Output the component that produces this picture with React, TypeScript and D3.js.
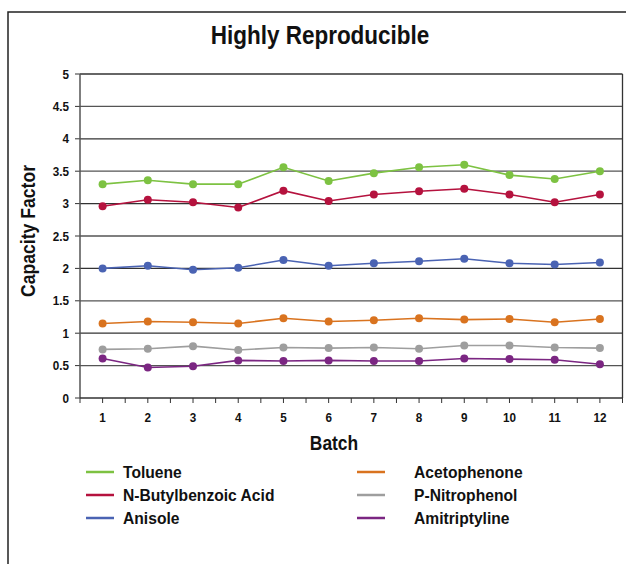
import React from "react";
import * as d3 from "d3";

const batches = [1, 2, 3, 4, 5, 6, 7, 8, 9, 10, 11, 12];
const yTicks = [0, 0.5, 1, 1.5, 2, 2.5, 3, 3.5, 4, 4.5, 5];
const yTickLabels = ["0", "0.5", "1", "1.5", "2", "2.5", "3", "3.5", "4", "4.5", "5"];

const toluene = [3.3, 3.36, 3.3, 3.3, 3.56, 3.35, 3.47, 3.56, 3.6, 3.44, 3.38, 3.5];
const nButylbenzoic = [2.96, 3.06, 3.02, 2.94, 3.2, 3.04, 3.14, 3.19, 3.23, 3.14, 3.02, 3.14];
const anisole = [2.0, 2.04, 1.98, 2.01, 2.13, 2.04, 2.08, 2.11, 2.15, 2.08, 2.06, 2.09];
const acetophenone = [1.15, 1.18, 1.17, 1.15, 1.23, 1.18, 1.2, 1.23, 1.21, 1.22, 1.17, 1.22];
const pNitrophenol = [0.75, 0.76, 0.8, 0.74, 0.78, 0.77, 0.78, 0.76, 0.81, 0.81, 0.78, 0.77];
const amitriptyline = [0.61, 0.47, 0.49, 0.58, 0.57, 0.58, 0.57, 0.57, 0.61, 0.6, 0.59, 0.52];

const seriesNames = ["Toluene", "N-Butylbenzoic Acid", "Anisole", "Acetophenone", "P-Nitrophenol", "Amitriptyline"];
const seriesColors = ["#7DC242", "#B5123E", "#4A63B3", "#D9731F", "#9E9E9E", "#7B2682"];
const seriesValues = [toluene, nButylbenzoic, anisole, acetophenone, pNitrophenol, amitriptyline];

const FONT = "'Liberation Sans', Arial, sans-serif";

export default function App() {
  const W = 626, H = 564;
  const left = 80, right = 622.5, top = 74, bottom = 398;
  const x = d3.scaleBand<number>().domain(batches).range([left, right]).padding(0);
  const y = d3.scaleLinear().domain([0, 5]).range([bottom, top]);
  const cx = (b: number) => (x(b) as number) + x.bandwidth() / 2;
  const line = d3.line<number>().x((_, i) => cx(batches[i])).y((v) => y(v));

  const halfTicks: number[] = [];
  for (let i = 0; i <= batches.length * 2; i++) halfTicks.push(left + (i * x.bandwidth()) / 2);

  const legendRows = [0, 1, 2];
  return (
    <svg width={W} height={H} style={{ position: "absolute", left: 0, top: 0 }}>
      <rect x={0} y={0} width={W} height={H} fill="#fff" />
      <rect x={8} y={12} width={W + 20} height={H + 20} fill="none" stroke="#222" strokeWidth={1.5} />
      <text
        transform="translate(320,44) scale(0.9,1)"
        textAnchor="middle"
        fontFamily={FONT}
        fontWeight="bold"
        fontSize={25}
        fill="#111"
      >
        Highly Reproducible
      </text>
      {yTicks.map((t, i) => (
        <g key={"g" + i}>
          {t > 0 && (
            <line x1={left} x2={right} y1={y(t)} y2={y(t)} stroke={i % 2 === 0 ? "#333" : "#555"} strokeWidth={1.3} />
          )}
          <line x1={left - 5} x2={left} y1={y(t)} y2={y(t)} stroke="#333" strokeWidth={1} />
          <text
            transform={`translate(69,${y(t) + 4.5}) scale(0.9,1)`}
            textAnchor="end"
            fontFamily={FONT}
            fontWeight="bold"
            fontSize={13}
            fill="#111"
          >
            {yTickLabels[i]}
          </text>
        </g>
      ))}
      <line x1={right} x2={right} y1={top} y2={bottom} stroke="#333" strokeWidth={1.3} />
      <line x1={left} x2={left} y1={top} y2={bottom} stroke="#555" strokeWidth={1.5} />
      <line x1={left} x2={right} y1={bottom} y2={bottom} stroke="#333" strokeWidth={1.5} />
      {halfTicks.map((tx, i) => (
        <line key={"t" + i} x1={tx} x2={tx} y1={bottom} y2={bottom + 5} stroke="#333" strokeWidth={1} />
      ))}
      {batches.map((b) => (
        <text
          key={"xl" + b}
          transform={`translate(${cx(b)},422) scale(0.9,1)`}
          textAnchor="middle"
          fontFamily={FONT}
          fontWeight="bold"
          fontSize={13}
          fill="#111"
        >
          {b}
        </text>
      ))}
      <text
        transform="translate(334,450) scale(0.87,1)"
        textAnchor="middle"
        fontFamily={FONT}
        fontWeight="bold"
        fontSize={20}
        fill="#111"
      >
        Batch
      </text>
      <text
        transform="translate(35,231) rotate(-90) scale(0.88,1)"
        textAnchor="middle"
        fontFamily={FONT}
        fontWeight="bold"
        fontSize={20}
        fill="#111"
      >
        Capacity Factor
      </text>
      {seriesValues.map((vals, s) => (
        <g key={"s" + s}>
          <path d={line(vals) || ""} fill="none" stroke={seriesColors[s]} strokeWidth={1.6} />
          {vals.map((v, i) => (
            <circle key={i} cx={cx(batches[i])} cy={y(v)} r={4} fill={seriesColors[s]} />
          ))}
        </g>
      ))}
      {seriesNames.map((n, s) => {
        const col = Math.floor(s / 3);
        const row = legendRows[s % 3];
        const lx = col === 0 ? 86 : 357;
        const tx = col === 0 ? 123 : 414;
        const ly = 472 + row * 23;
        return (
          <g key={"l" + s}>
            <line x1={lx} x2={lx + 28} y1={ly} y2={ly} stroke={seriesColors[s]} strokeWidth={2.5} />
            <text
              transform={`translate(${tx},${ly + 6}) scale(0.92,1)`}
              fontFamily={FONT}
              fontWeight="bold"
              fontSize={17}
              fill="#111"
            >
              {n}
            </text>
          </g>
        );
      })}
    </svg>
  );
}
